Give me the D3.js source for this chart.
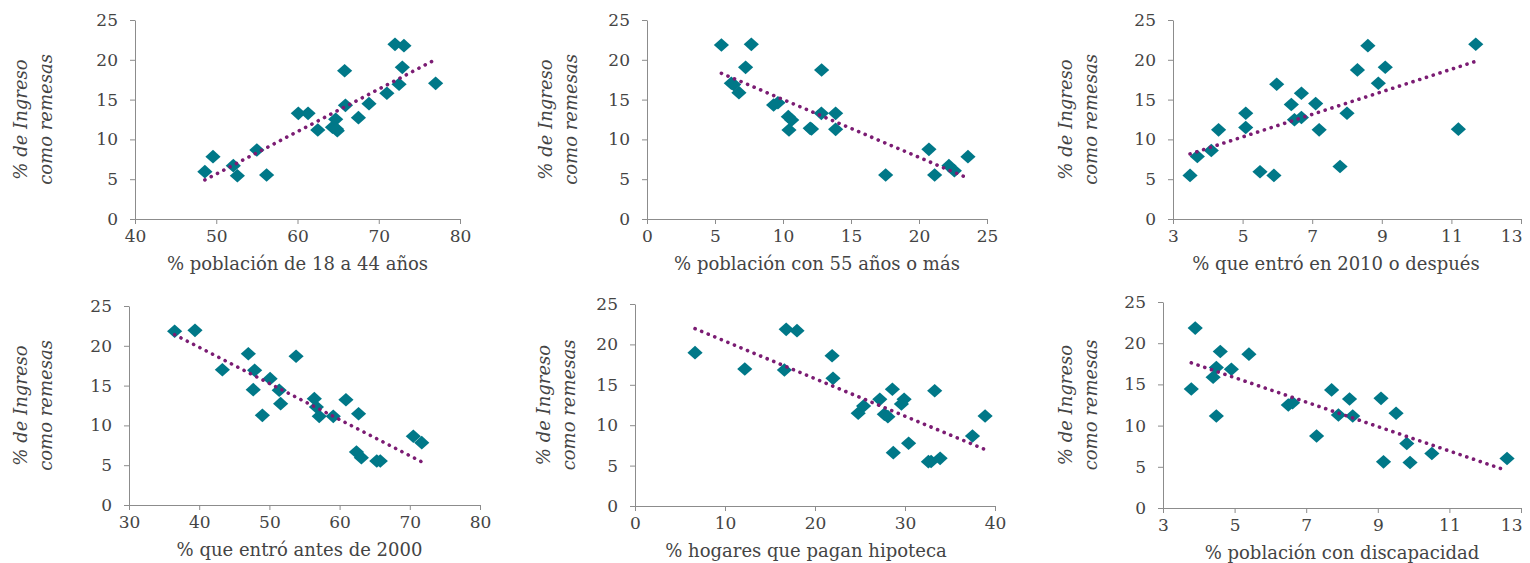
<!DOCTYPE html>
<html>
<head>
<meta charset="utf-8">
<script src="https://cdn.jsdelivr.net/npm/d3@7"></script>
<style>
  body { margin: 0; background: #fff; }
  svg { display: block; }
  .tick text { font-family: "DejaVu Serif", serif; font-size: 17px; fill: #444; }
  .domain, .tick line { stroke: #8c8c8c; }
  .ttl { font-family: "DejaVu Serif", serif; font-size: 18px; fill: #444; }
</style>
</head>
<body>
<script>
// Remesas vs características de la población (6 paneles)

// y: % de ingreso como remesas
var yTicks = [0, 5, 10, 15, 20, 25];

// panel 1: % población de 18 a 44 años
var edad1844X = [48.6, 49.6, 52.1, 52.6, 55.0, 56.2, 60.1, 61.3, 62.5, 64.3, 64.7, 64.9, 64.8, 65.8, 65.9, 67.5, 68.8, 71.0, 72.0, 72.5, 72.9, 73.1, 77.0];
var edad1844Y = [5.95, 7.83, 6.7, 5.44, 8.67, 5.53, 13.27, 13.27, 11.18, 11.52, 12.52, 11.1, 11.3, 18.63, 14.28, 12.73, 14.49, 15.79, 21.94, 16.92, 19.05, 21.78, 17.04];
var edad1844Ticks = [40, 50, 60, 70, 80];

// panel 2: % población con 55 años o más
var edad55X = [5.47, 7.67, 7.25, 12.84, 6.2, 6.37, 6.76, 9.31, 9.63, 10.39, 10.64, 10.44, 12.0, 12.1, 12.82, 13.87, 13.87, 17.55, 20.73, 21.15, 22.2, 22.6, 23.6];
var edad55Y = [21.86, 21.94, 19.05, 18.72, 17.06, 16.9, 15.87, 14.32, 14.6, 12.86, 12.44, 11.18, 11.39, 11.3, 13.27, 13.27, 11.26, 5.53, 8.75, 5.53, 6.7, 6.07, 7.83];
var edad55Ticks = [0, 5, 10, 15, 20, 25];

// panel 3: % que entró en 2010 o después
var entro2010X = [3.49, 3.7, 4.1, 4.31, 5.09, 5.09, 5.5, 5.9, 5.98, 6.4, 6.49, 6.69, 6.69, 7.1, 7.2, 7.8, 8.0, 8.3, 8.6, 8.9, 9.1, 11.2, 11.7];
var entro2010Y = [5.48, 7.86, 8.61, 11.2, 13.29, 11.5, 5.94, 5.48, 16.93, 14.38, 12.46, 12.75, 15.8, 14.5, 11.2, 6.6, 13.29, 18.73, 21.78, 17.06, 19.06, 11.29, 21.95];
var entro2010Ticks = [3, 5, 7, 9, 11, 13];

// panel 4: % que entró antes de 2000
var antes2000X = [36.5, 39.4, 43.3, 47.0, 47.9, 47.7, 49.0, 50.1, 51.4, 51.6, 53.8, 56.4, 56.7, 57.1, 59.1, 60.9, 62.7, 62.4, 63.1, 65.3, 65.8, 70.5, 71.7];
var antes2000Y = [21.82, 21.94, 17.0, 19.01, 16.92, 14.49, 11.26, 15.87, 14.41, 12.73, 18.68, 13.36, 12.31, 11.14, 11.14, 13.23, 11.47, 6.66, 5.95, 5.53, 5.53, 8.63, 7.83];
var antes2000Ticks = [30, 40, 50, 60, 70, 80];

// panel 5: % hogares que pagan hipoteca
var hipotecaX = [6.67, 12.2, 16.6, 16.8, 18.0, 21.9, 22.0, 24.8, 25.4, 27.2, 27.7, 28.1, 28.6, 28.7, 29.6, 29.9, 30.4, 32.6, 32.9, 33.9, 33.3, 37.5, 38.9];
var hipotecaY = [18.98, 16.96, 16.83, 21.86, 21.7, 18.6, 15.8, 11.47, 12.38, 13.2, 11.35, 11.06, 14.44, 6.6, 12.62, 13.2, 7.76, 5.49, 5.5, 5.9, 14.27, 8.66, 11.14];
var hipotecaTicks = [0, 10, 20, 30, 40];

// panel 6: % población con discapacidad
var discapX = [3.79, 3.9, 4.4, 4.49, 4.49, 4.6, 4.91, 5.4, 6.5, 6.62, 7.29, 7.71, 7.9, 8.21, 8.3, 9.09, 9.16, 9.51, 9.81, 9.9, 10.51, 12.61];
var discapY = [14.45, 21.83, 15.87, 17.05, 11.16, 18.99, 16.84, 18.67, 12.5, 12.78, 8.73, 14.33, 11.28, 13.23, 11.16, 13.31, 5.6, 11.49, 7.83, 5.52, 6.62, 6.0];
var discapTicks = [3, 5, 7, 9, 11, 13];

var xTitles = ['% población de 18 a 44 años', '% población con 55 años o más', '% que entró en 2010 o después',
               '% que entró antes de 2000', '% hogares que pagan hipoteca', '% población con discapacidad'];
var yTitle = ['% de Ingreso', 'como remesas'];

var panels = [
  { xs: edad1844X, ys: edad1844Y, ticks: edad1844Ticks, l: 135, r: 460, t: 20, b: 219, ty: -115, xt: 0 },
  { xs: edad55X, ys: edad55Y, ticks: edad55Ticks, l: 647, r: 987, t: 20, b: 219, ty: -102, xt: 0 },
  { xs: entro2010X, ys: entro2010Y, ticks: entro2010Ticks, l: 1173, r: 1521, t: 20, b: 219, ty: -108, xt: -11 },
  { xs: antes2000X, ys: antes2000Y, ticks: antes2000Ticks, l: 129, r: 480, t: 306, b: 505, ty: -109, xt: -5 },
  { xs: hipotecaX, ys: hipotecaY, ticks: hipotecaTicks, l: 635, r: 995, t: 304, b: 506, ty: -92, xt: -9 },
  { xs: discapX, ys: discapY, ticks: discapTicks, l: 1163, r: 1521, t: 302, b: 508, ty: -98, xt: 0 }
];

var w = 1530;
var h = 563;

var svg = d3.select('body')
  .append('svg')
  .attr('width', w)
  .attr('height', h);

// diamond marker, a bit wider than tall
var diamond = 'M0,-6.8L7.6,0L0,6.8L-7.6,0Z';

panels.forEach(function(p, i) {
  var x = d3.scaleLinear()
    .domain(d3.extent(p.ticks))
    .range([p.l, p.r]);
  var y = d3.scaleLinear()
    .domain([0, 25])
    .range([p.b, p.t]);

  var g = svg.append('g');

  // axes
  var gx = g.append('g')
    .attr('transform', 'translate(0,' + p.b + ')')
    .call(d3.axisBottom(x).tickValues(p.ticks).tickSizeInner(5).tickSizeOuter(0).tickPadding(6));
  g.append('g')
    .attr('transform', 'translate(' + p.l + ',0)')
    .call(d3.axisLeft(y).tickValues(yTicks).tickSizeInner(5).tickSizeOuter(0).tickPadding(12));
  g.selectAll('.tick text').attr('font-family', null).attr('font-size', null);
  g.selectAll('.domain, .tick line').attr('stroke', null);

  // keep last x label inside the page
  gx.selectAll('.tick text')
    .filter(function(d) { return x(d) + 12 > w; })
    .attr('text-anchor', 'end')
    .attr('x', 1);

  // points
  var pts = p.xs.map(function(v, k) { return [v, p.ys[k]]; });
  g.selectAll('path.pt')
    .data(pts)
    .enter()
    .append('path')
    .attr('class', 'pt')
    .attr('d', diamond)
    .attr('transform', function(d) { return 'translate(' + x(d[0]) + ',' + y(d[1]) + ')'; })
    .attr('fill', '#007888');

  // linear trend (least squares)
  var mx = d3.mean(p.xs), my = d3.mean(p.ys);
  var sxy = d3.sum(p.xs, function(v, k) { return (v - mx) * (p.ys[k] - my); });
  var sxx = d3.sum(p.xs, function(v) { return (v - mx) * (v - mx); });
  var slope = sxy / sxx, icpt = my - slope * mx;
  var ext = d3.extent(p.xs);
  g.append('path')
    .datum(ext.map(function(v) { return [v, icpt + slope * v]; }))
    .attr('d', d3.line().x(function(d) { return x(d[0]); }).y(function(d) { return y(d[1]); }))
    .attr('fill', 'none')
    .attr('stroke', '#7b1c73')
    .attr('stroke-width', 3.6)
    .attr('stroke-linecap', 'round')
    .attr('stroke-dasharray', '0.1 7');

  // titles
  var cy = (p.t + p.b) / 2;
  yTitle.forEach(function(s, k) {
    g.append('text')
      .attr('class', 'ttl')
      .attr('transform', 'translate(' + (p.l + p.ty + k * 25) + ',' + cy + ') rotate(-90)')
      .attr('text-anchor', 'middle')
      .attr('dominant-baseline', 'central')
      .attr('font-style', 'italic')
      .text(s);
  });
  g.append('text')
    .attr('class', 'ttl')
    .attr('x', (p.l + p.r) / 2 + p.xt)
    .attr('y', p.b + 44)
    .attr('text-anchor', 'middle')
    .attr('dominant-baseline', 'central')
    .text(xTitles[i]);
});
</script>
</body>
</html>
